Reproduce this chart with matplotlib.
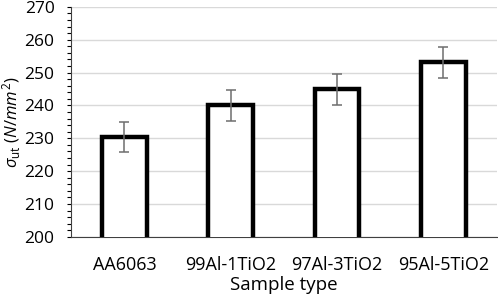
import numpy as np
import matplotlib.pyplot as plt
from matplotlib.ticker import MultipleLocator

samples = ['AA6063', '99Al-1TiO2', '97Al-3TiO2', '95Al-5TiO2']
uts = [230.4, 240.0, 244.9, 253.2]
uts_err = [4.7, 4.7, 4.7, 4.7]

plt.rcParams['font.family'] = ['Open Sans', 'DejaVu Sans']
plt.rcParams['mathtext.fontset'] = 'custom'
plt.rcParams['mathtext.rm'] = 'Open Sans'
plt.rcParams['mathtext.it'] = 'Open Sans:italic'

fig, ax = plt.subplots(figsize=(4.98, 2.98), dpi=100)
fig.subplots_adjust(left=0.143, right=0.997, top=0.977, bottom=0.205)

x = np.arange(len(samples))
ax.bar(x, uts, width=0.42, color='white', edgecolor='black', linewidth=3.2, zorder=3)
ax.errorbar(x, uts, yerr=uts_err, fmt='none', ecolor='#6e6e6e', elinewidth=1.1,
            capsize=3.4, capthick=1.1, zorder=4)

ax.set_ylim(200, 270)
ax.set_xlim(-0.5, 3.5)
ax.yaxis.set_major_locator(MultipleLocator(10))
ax.yaxis.set_minor_locator(MultipleLocator(2))
ax.grid(axis='y', color='#d9d9d9', linewidth=1.0, zorder=0)
ax.set_axisbelow(True)

ax.set_xticks(x)
ax.set_xticklabels(samples)
ax.tick_params(axis='x', length=0, labelsize=13, pad=14)
ax.tick_params(axis='y', which='both', direction='out', length=3, width=0.8, labelsize=12.5, pad=9)

for s in ['top', 'right']:
    ax.spines[s].set_visible(False)
ax.spines['left'].set_color('#404040')
ax.spines['bottom'].set_color('#404040')

ax.set_xlabel('Sample type', fontsize=13.5, labelpad=1)
ax.set_ylabel(r'$\sigma_{\rm ut}$ $(N/mm^2)$', fontsize=12)
ax.yaxis.set_label_coords(-0.114, 0.5)

fig.savefig('out.png')
